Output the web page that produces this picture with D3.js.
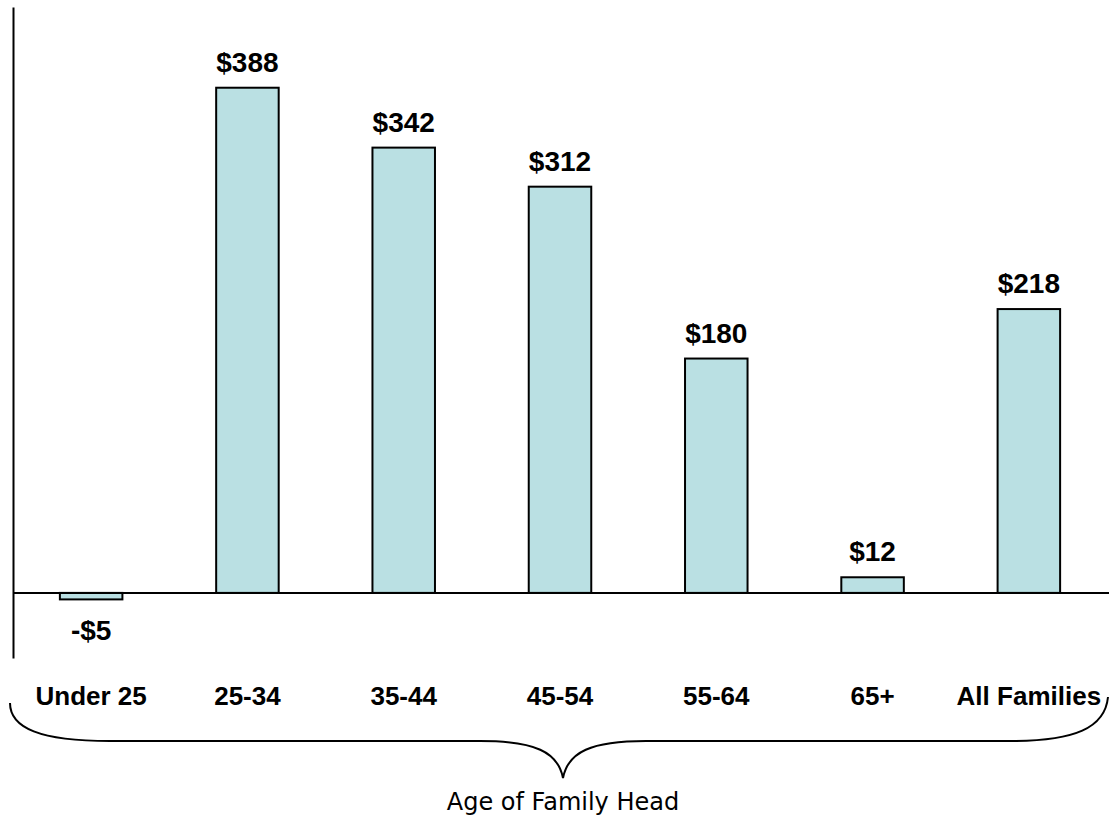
<!DOCTYPE html>
<html>
<head>
<meta charset="utf-8">
<script src="https://cdn.jsdelivr.net/npm/d3@7"></script>
<style>
  body { margin: 0; background: #fff; }
  svg { display: block; }
</style>
</head>
<body>
<div id="chart"></div>
<script>
// Net worth change by age of family head

const categories = ["Under 25", "25-34", "35-44", "45-54", "55-64", "65+", "All Families"];
const values = [-5, 388, 342, 312, 180, 12, 218];
const valueLabels = ["-$5", "$388", "$342", "$312", "$180", "$12", "$218"];
const yDomain = [-50, 450];
const axisTitle = "Age of Family Head";

const width = 1109, height = 819;

const svg = d3.select("#chart")
    .append("svg")
    .attr("width", width)
    .attr("height", height);

// scales
const x = d3.scaleBand()
    .domain(categories)
    .range([13, 1107])
    .paddingInner(0.6)
    .paddingOuter(0.3);

const y = d3.scaleLinear()
    .domain(yDomain)
    .range([658, 7]);

// bars
svg.selectAll(".bar")
  .data(values)
  .join("rect")
    .attr("class", "bar")
    .attr("x", (d, i) => x(categories[i]))
    .attr("y", d => y(Math.max(0, d)))
    .attr("width", x.bandwidth())
    .attr("height", d => Math.abs(y(d) - y(0)))
    .style("fill", "#bae0e3")
    .style("stroke", "#000")
    .style("stroke-width", 2);

// zero line
svg.append("line")
    .attr("x1", 13)
    .attr("x2", width)
    .attr("y1", y(0))
    .attr("y2", y(0))
    .style("stroke", "#000")
    .style("stroke-width", 2);

// y axis line, no ticks
const yAxis = svg.append("g")
    .attr("transform", "translate(13,0)")
    .call(d3.axisLeft(y).tickValues([]).tickSizeOuter(0));
yAxis.select(".domain").style("stroke", "#000").style("stroke-width", 2);

// value labels
svg.selectAll(".val")
  .data(values)
  .join("text")
    .attr("class", "val")
    .attr("x", (d, i) => x(categories[i]) + x.bandwidth() / 2)
    .attr("y", d => d >= 0 ? y(d) - 16 : y(d) + 41)
    .attr("text-anchor", "middle")
    .style("font-family", "'Liberation Sans', Arial, sans-serif")
    .style("font-weight", "bold")
    .style("font-size", "28px")
    .style("fill", "#000")
    .text((d, i) => valueLabels[i]);

// category labels
svg.selectAll(".cat")
  .data(categories)
  .join("text")
    .attr("class", "cat")
    .attr("x", d => x(d) + x.bandwidth() / 2)
    .attr("y", 705)
    .attr("text-anchor", "middle")
    .style("font-family", "'Liberation Sans', Arial, sans-serif")
    .style("font-weight", "bold")
    .style("font-size", "26px")
    .style("fill", "#000")
    .text(d => d);

// brace under the categories
const mid = 563;
svg.append("path")
    .attr("d", `M10,703 C10,728 40,741 110,741 L480,741 C535,741 558,752 ${mid},778
                C568,752 591,741 646,741 L1010,741 C1075,741 1105,728 1108,697`)
    .style("fill", "none")
    .style("stroke", "#000")
    .style("stroke-width", 2);

// axis title
svg.append("text")
    .attr("x", mid)
    .attr("y", 810)
    .attr("text-anchor", "middle")
    .style("font-family", "'DejaVu Sans', sans-serif")
    .style("font-size", "24px")
    .style("fill", "#000")
    .text(axisTitle);
</script>
</body>
</html>
